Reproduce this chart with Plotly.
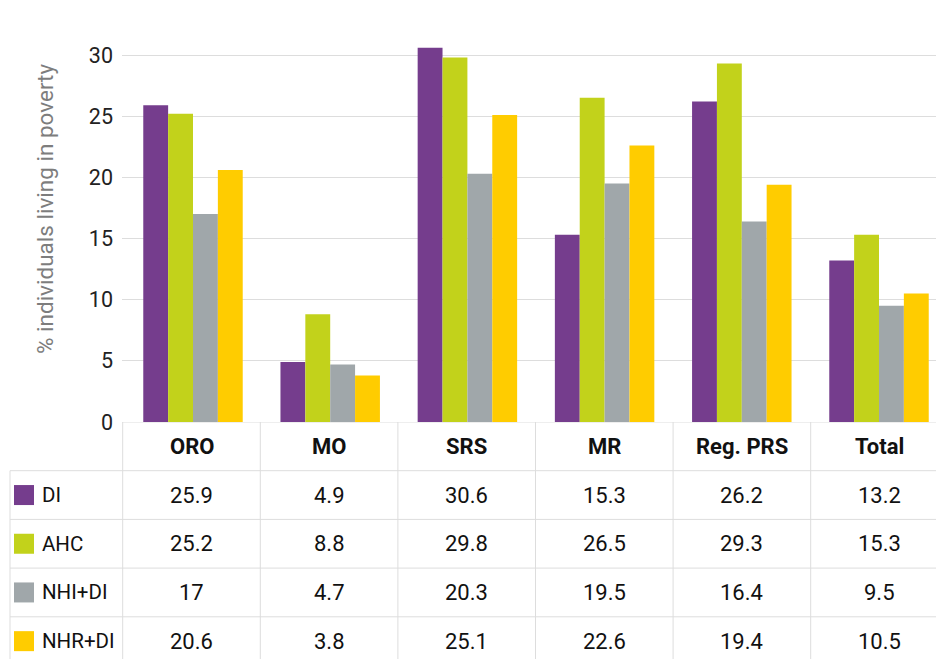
import plotly.graph_objects as go

# Poverty rates by group and measure
categories = ["ORO", "MO", "SRS", "MR", "Reg. PRS", "Total"]
series_names = ["DI", "AHC", "NHI+DI", "NHR+DI"]
di = [25.9, 4.9, 30.6, 15.3, 26.2, 13.2]
ahc = [25.2, 8.8, 29.8, 26.5, 29.3, 15.3]
nhi_di = [17, 4.7, 20.3, 19.5, 16.4, 9.5]
nhr_di = [20.6, 3.8, 25.1, 22.6, 19.4, 10.5]
y_ticks = [0, 5, 10, 15, 20, 25, 30]

series_values = [di, ahc, nhi_di, nhr_di]
colors = ["#753D8D", "#C2D21B", "#A0A7AA", "#FFCC00"]

W, H = 936, 659
FONT = "Roboto"
GRID = "#dddddd"

x_idx = list(range(len(categories)))

fig = go.Figure()
for name, vals, col in zip(series_names, series_values, colors):
    fig.add_trace(go.Bar(
        x=x_idx, y=vals, name=name, marker=dict(color=col, line=dict(width=0)),
        xaxis="x", yaxis="y", showlegend=False, hoverinfo="y+name",
    ))

plot_left = 122 / W
plot_w = W - 122
# bar axis: groups are spaced slightly tighter than the table columns
bar_px = 137.2
x_lo = -(193 - 122) / bar_px
x_hi = x_lo + plot_w / bar_px
# table axis: the last column runs past the right edge
col_px = 137.6
t_lo = -0.5 - 0.7 / col_px
t_hi = t_lo + plot_w / col_px
table_top = (H - 422) / H
n_rows = 1 + len(series_names)
row_units = (H - 422) / 48.7

fig.update_layout(
    width=W, height=H,
    margin=dict(l=0, r=0, t=0, b=0),
    paper_bgcolor="white", plot_bgcolor="white",
    font=dict(family=FONT, size=21, color="#111111"),
    barmode="group", bargap=0.275, bargroupgap=0,
    xaxis=dict(domain=[plot_left, 1], range=[x_lo, x_hi], showticklabels=False,
               showgrid=False, zeroline=False, showline=False, fixedrange=True),
    xaxis2=dict(domain=[plot_left, 1], range=[t_lo, t_hi], anchor="y2", visible=False,
                showgrid=False, zeroline=False),
    yaxis=dict(domain=[table_top, (H - 40) / H], range=[0, (422 - 40) / 12.233],
               tickvals=y_ticks, ticklabelstandoff=8, showgrid=True, gridcolor=GRID,
               gridwidth=1, zeroline=False, showline=False, automargin=False,
               tickfont=dict(size=21.5, color="#222222")),
    yaxis2=dict(domain=[0, table_top], range=[row_units, 0], anchor="x2", visible=False,
                showgrid=False, zeroline=False),
)

shapes = []
line = dict(color=GRID, width=1)
# top border of the table
shapes.append(dict(type="line", xref="paper", yref="y2", x0=plot_left, x1=1, y0=0, y1=0, line=line))
# row separators (span the legend column as well)
for r in range(1, n_rows):
    shapes.append(dict(type="line", xref="paper", yref="y2", x0=10 / W, x1=1, y0=r, y1=r, line=line))
# column separators
for i in range(len(categories)):
    shapes.append(dict(type="line", xref="x2", yref="y2", x0=i - 0.5, x1=i - 0.5,
                       y0=0, y1=row_units, line=line))
shapes.append(dict(type="line", xref="paper", yref="y2", x0=10 / W, x1=10 / W,
                   y0=1, y1=row_units, line=line))

annotations = [dict(xref="paper", yref="paper", x=45 / W, y=(H - 209) / H,
                    xanchor="center", yanchor="middle",
                    text="% individuals living in poverty", textangle=-90,
                    showarrow=False, font=dict(size=22.5, color="#7d7d7d"))]
for i, cat in enumerate(categories):
    annotations.append(dict(xref="x2", yref="y2", x=i, y=0.5, text=f"<b>{cat}</b>",
                            showarrow=False, font=dict(size=22, color="#111111")))
sq = 10 / 48.7
for r, (name, vals, col) in enumerate(zip(series_names, series_values, colors), start=1):
    shapes.append(dict(type="rect", xref="paper", yref="y2", x0=14 / W, x1=34 / W,
                       y0=r + 0.5 - sq, y1=r + 0.5 + sq, fillcolor=col, line=dict(width=0)))
    annotations.append(dict(xref="paper", yref="y2", x=40 / W, y=r + 0.5, text=name,
                            xanchor="left", showarrow=False, font=dict(size=20.5, color="#111111")))
    for i, v in enumerate(vals):
        annotations.append(dict(xref="x2", yref="y2", x=i, y=r + 0.5, text=f"{v:g}",
                                showarrow=False, font=dict(size=22, color="#111111")))

fig.update_layout(shapes=shapes, annotations=annotations)
fig.write_html("out.html")
